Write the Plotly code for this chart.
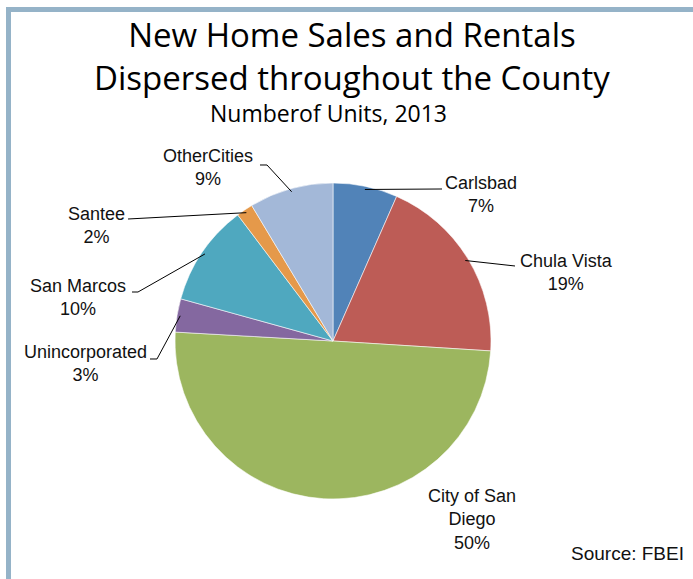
import math
import plotly.graph_objects as go

# ---- data ----
categories = ["Carlsbad", "Chula Vista", "City of San Diego", "Unincorporated",
              "San Marcos", "Santee", "Other Cities"]
label_text = ["Carlsbad", "Chula Vista", "City of San<br>Diego", "Unincorporated",
              "San Marcos", "Santee", "OtherCities"]
share = [6.6, 19.4, 49.9, 3.4, 10.4, 1.7, 8.6]   # % of units, 2013
colors = ["#5183b8", "#bd5c56", "#9cb65f", "#8468a0", "#4fa8bf", "#e5994a", "#a3b8d8"]

W, H = 693, 579
CX, CY, R = 333, 341, 158   # pie centre / radius in pixels

# label layout (pixel positions of the text block centres and leader elbows)
label_pos = {
    "Carlsbad": (481, 195),
    "Chula Vista": (566, 272),
    "City of San Diego": (472, 519),
    "Unincorporated": (85, 363),
    "San Marcos": (78, 297),
    "Santee": (96, 225),
    "Other Cities": (208, 168),
}
leader_pts = {
    "Carlsbad": [(442, 189)],
    "Chula Vista": [(515, 266)],
    "City of San Diego": None,
    "Unincorporated": [(150, 359), (157, 359)],
    "San Marcos": [(132, 292), (138, 292)],
    "Santee": [(128, 219)],
    "Other Cities": [(260, 165), (267, 165)],
}

def px(x):
    return x / W

def py(y):
    return 1 - y / H

fig = go.Figure()
fig.add_trace(go.Pie(
    labels=categories, values=share, sort=False, direction="clockwise", rotation=0,
    marker=dict(colors=colors, line=dict(color="rgba(255,255,255,0.7)", width=0.8)),
    textinfo="none", hoverinfo="label+percent", showlegend=False,
    domain=dict(x=[px(CX - R), px(CX + R)], y=[py(CY + R), py(CY - R)]),
))

annotations = []
shapes = []
total = sum(share)
cum = 0.0
for cat, txt, v in zip(categories, label_text, share):
    mid = (cum + v / 2) / total * 2 * math.pi
    cum += v
    pct = f"{round(v / total * 100)}%"
    lx, ly = label_pos[cat]
    annotations.append(dict(
        x=px(lx), y=py(ly), xref="paper", yref="paper", text=f"{txt}<br>{pct}",
        showarrow=False, xanchor="center", yanchor="middle", align="center",
        font=dict(family="Liberation Sans, Arial", size=18, color="#111111"),
    ))
    pts = leader_pts[cat]
    if pts:
        ex = CX + 0.98 * R * math.sin(mid)
        ey = CY - 0.98 * R * math.cos(mid)
        allp = pts + [(ex, ey)]
        path = "M " + " L ".join(f"{px(a):.5f},{py(b):.5f}" for a, b in allp)
        shapes.append(dict(type="path", xref="paper", yref="paper", path=path,
                           line=dict(color="#000000", width=1)))

# frame lines (top and left)
frame = "#95b3c8"
shapes.append(dict(type="rect", xref="paper", yref="paper", x0=px(6), x1=1.0,
                   y0=py(12), y1=py(7), fillcolor=frame, line=dict(width=0)))
shapes.append(dict(type="rect", xref="paper", yref="paper", x0=px(6), x1=px(11),
                   y0=0, y1=py(7), fillcolor=frame, line=dict(width=0)))

# titles
annotations.append(dict(x=px(352), y=py(56), xref="paper", yref="paper",
                        text="New Home Sales and Rentals<br>Dispersed throughout the County",
                        showarrow=False, xanchor="center", yanchor="middle", align="center",
                        font=dict(family="Open Sans", size=33, color="#000000")))
annotations.append(dict(x=px(328), y=py(113), xref="paper", yref="paper",
                        text="Numberof Units, 2013", showarrow=False,
                        xanchor="center", yanchor="middle",
                        font=dict(family="Open Sans", size=23, color="#000000")))
annotations.append(dict(x=px(686), y=py(553), xref="paper", yref="paper",
                        text="Source: FBEI", showarrow=False,
                        xanchor="right", yanchor="middle",
                        font=dict(family="Liberation Sans, Arial", size=19, color="#111111")))

fig.update_layout(
    width=W, height=H, margin=dict(l=0, r=0, t=0, b=0),
    paper_bgcolor="white", plot_bgcolor="white",
    annotations=annotations, shapes=shapes,
)
fig.write_html("out.html", config={"displayModeBar": False},
               post_script="document.body.style.margin='0';document.body.style.overflow='hidden';")
